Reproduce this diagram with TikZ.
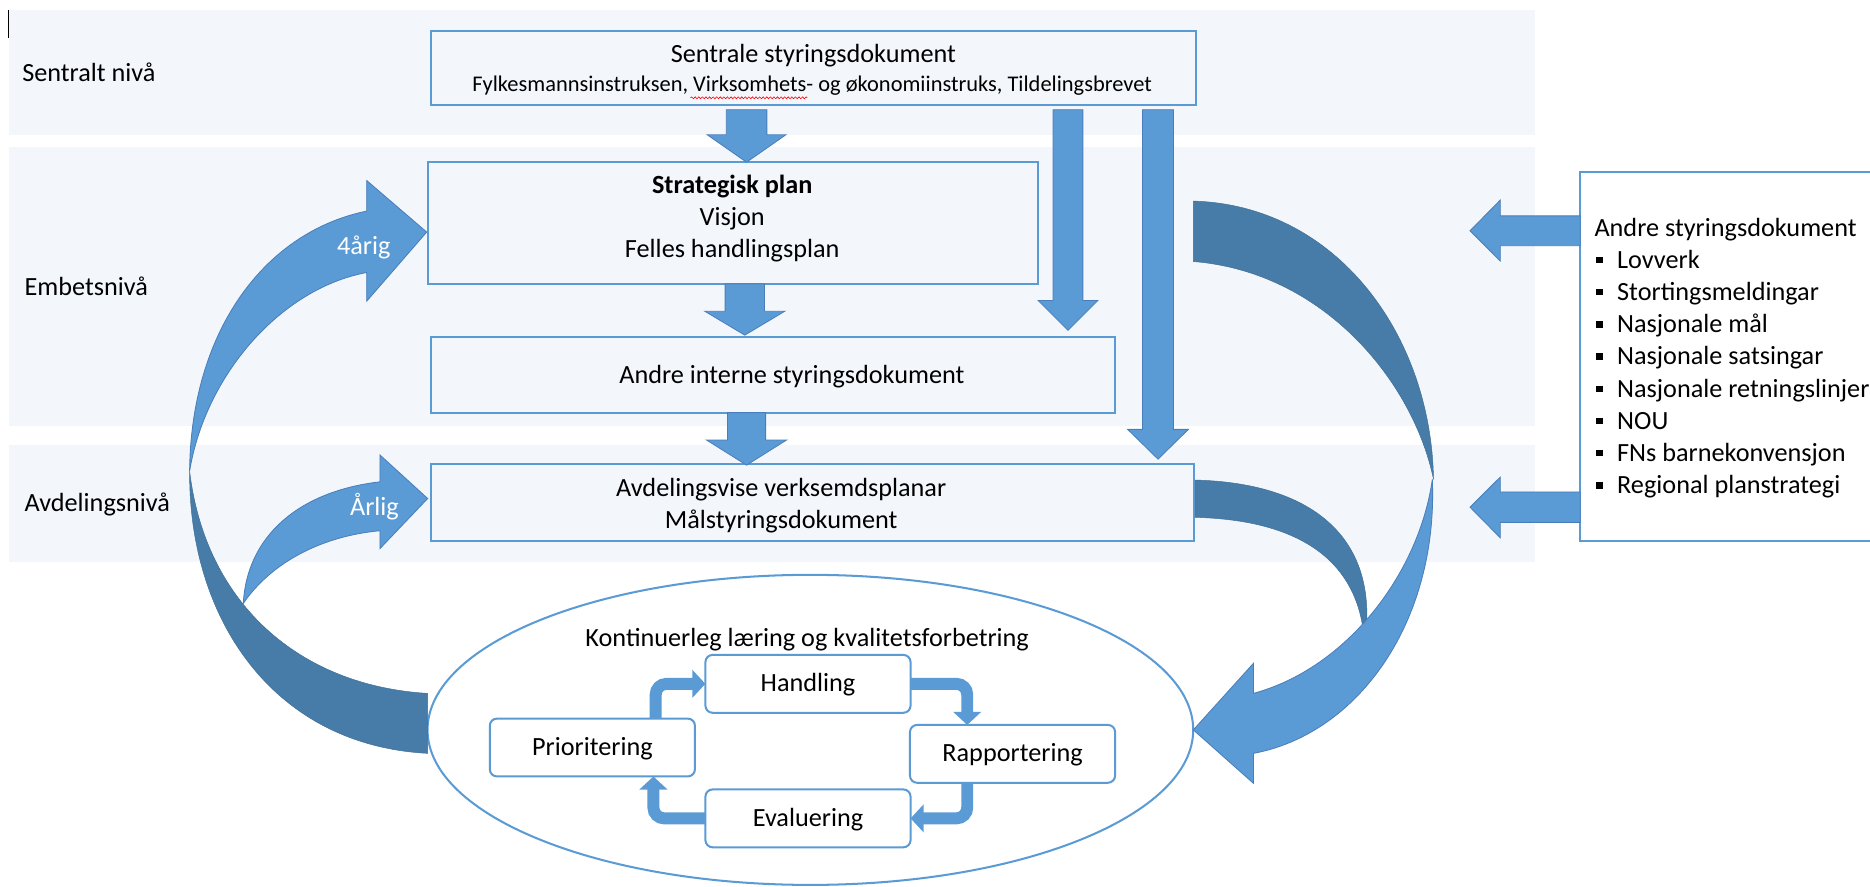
\documentclass[tikz,border=0pt]{standalone}
\usepackage{fontspec}
\setmainfont{Carlito}
\usetikzlibrary{shapes.geometric,arrows.meta,decorations.pathmorphing}
\definecolor{bandc}{RGB}{243,247,252}
\definecolor{boxline}{RGB}{91,155,213}
\definecolor{arrowfill}{RGB}{91,155,213}
\definecolor{arrowline}{RGB}{74,126,187}
\definecolor{darkfill}{RGB}{71,123,168}
\newcommand{\vblockarrow}[6]{%
  \filldraw[blockarrow] (#1-#5,#2) -- (#1+#5,#2) -- (#1+#5,#3) -- (#1+#6,#3) -- (#1,#4) -- (#1-#6,#3) -- (#1-#5,#3) -- cycle;}
\newcommand{\hblockleft}[7]{%
  \filldraw[blockarrow] (#1,#2-#5) -- (#3,#2-#5) -- (#3,#6) -- (#4,#2) -- (#3,#7) -- (#3,#2+#5) -- (#1,#2+#5) -- cycle;}
\begin{document}
\begin{tikzpicture}[x=1pt,y=-1pt,
  every node/.style={inner sep=0pt,outer sep=0pt},
  blockarrow/.style={fill=arrowfill,draw=arrowline,line width=0.7pt},
  darkpart/.style={fill=darkfill,draw=darkfill!90!black,line width=0.4pt},
  mainbox/.style={draw=boxline,line width=1.7pt,rectangle,anchor=north west},
  txt/.style={font=\fontsize{22}{26}\selectfont,anchor=base},
  smalltxt/.style={font=\fontsize{18.8}{22}\selectfont,anchor=base},
  lbl/.style={font=\fontsize{22}{26}\selectfont,anchor=base west},
  wtxt/.style={font=\fontsize{22}{26}\selectfont,anchor=base,text=white},
  cycbox/.style={draw=boxline,line width=1.7pt,fill=white,rounded corners=6pt,
    minimum width=172pt,minimum height=48.5pt,font=\fontsize{22}{26}\selectfont,
    text height=13.4pt,text depth=0.2pt},
  cycarrow/.style={draw=arrowfill,line width=10pt,rounded corners=9pt,
    -{Triangle[width=23pt,length=11pt]}},
  bulletsq/.style={fill=black,minimum size=5.5pt,rectangle}
]
\useasboundingbox (0,0) rectangle (1568,743);
% bands
\fill[bandc] (7.5,8.4) rectangle (1287,113.2);
\fill[bandc] (7.5,123) rectangle (1287,357);
\fill[bandc] (7.5,373) rectangle (1287,471.5);
% cursor and spell-check mark
\draw[line width=0.8pt] (7.5,8.4) -- (7.5,32);
% level labels
\node[lbl] (lsentral) at (18.7,68.5) {Sentralt nivå};
\node[lbl] (lembets) at (20.6,247.4) {Embetsnivå};
\node[lbl] (lavd) at (20.6,429) {Avdelingsnivå};
% main boxes
\node[mainbox,minimum width=642pt,minimum height=62.3pt] (sentral) at (361,25.7) {};
\node[mainbox,minimum width=511pt,minimum height=102pt] (strat) at (359,136) {};
\node[mainbox,minimum width=574pt,minimum height=63.5pt] (andre) at (361,282.5) {};
\node[mainbox,minimum width=640pt,minimum height=65pt] (avd) at (361,389) {};
\node[mainbox,fill=white,minimum width=262pt,minimum height=310pt] (ext) at (1325,144) {};
% texts in main boxes
\node[txt] (tsentral1) at (682,52) {Sentrale styringsdokument};
\node[smalltxt] (tsentral2) at (681,76.9) {Fylkesmannsinstruksen, Virksomhets- og økonomiinstruks, Tildelingsbrevet};
\draw[red,line width=0.5pt,decorate,decoration={snake,amplitude=0.8pt,segment length=3pt}] (579,82) -- (677,82);
\node[txt,font=\fontsize{22}{26}\selectfont\bfseries] (tstrat1) at (614,162) {Strategisk plan};
\node[txt] (tstrat2) at (614,189) {Visjon};
\node[txt] (tstrat3) at (614,215.8) {Felles handlingsplan};
\node[txt] (tandre) at (664,321.4) {Andre interne styringsdokument};
\node[txt] (tavd1) at (655,416.5) {Avdelingsvise verksemdsplanar};
\node[txt] (tavd2) at (655,443) {Målstyringsdokument};
% external documents
\node[lbl] (text0) at (1337,198.5) {Andre styringsdokument};
\foreach \i/\t in {0/Lovverk,1/Stortingsmeldingar,2/Nasjonale mål,3/Nasjonale satsingar,4/Nasjonale retningslinjer,5/NOU,6/FNs barnekonvensjon,7/Regional planstrategi}{
  \node[bulletsq] (b\i) at (1341.3,225+27*\i-7) {};
  \node[lbl] (item\i) at (1356,225+27*\i) {\t};
}
% straight block arrows
\vblockarrow{626}{92}{113}{136}{17}{33}
\vblockarrow{624.5}{238}{261}{281}{16.5}{33.5}
\vblockarrow{626}{346}{369}{390}{16}{33.5}
\vblockarrow{895.5}{92}{252}{277}{12.5}{25}
\vblockarrow{971}{92}{360}{385}{13}{25.5}
\hblockleft{1325}{193.5}{1258}{1232.6}{12.5}{167.7}{219}
\hblockleft{1325}{425.25}{1258}{1232.6}{12.75}{400}{451}
% ellipse
\node[ellipse,draw=boxline,line width=1.7pt,fill=white,minimum width=642pt,minimum height=260pt] (cyc) at (679.5,612) {};
\node[txt] (tcyc) at (676.8,542.2) {Kontinuerleg læring og kvalitetsforbetring};
% left curved arrows
\path[darkpart] (159,395) .. controls (158,520) and (230,625) .. (358.6,631.7) -- (358.6,581.4) .. controls (250,575) and (172,505) .. cycle;
\filldraw[blockarrow] (159,395) .. controls (160,280) and (220,195) .. (307.5,177) -- (307.5,151.4) -- (357.8,194.6) -- (307.5,252.5) -- (307.5,228.5) .. controls (235,242) and (172,315) .. cycle;
\filldraw[blockarrow] (204,506) .. controls (207,450) and (250,412) .. (318.6,404) -- (318.6,381.5) -- (358.6,418) -- (318.6,460) -- (318.6,445) .. controls (265,450) and (225,475) .. cycle;
\node[wtxt] (t4) at (305,213.8) {4årig};
\node[wtxt] (t1) at (314,432) {Årlig};
% right curved arrows
\path[darkpart] (1000.6,168.6) .. controls (1120,172) and (1200,280) .. (1202,402) .. controls (1185,320) and (1110,228) .. (1000.6,219.3) -- cycle;
\path[darkpart] (1002,402.5) .. controls (1100,405) and (1152,450) .. (1145.6,528) -- (1143,528) .. controls (1135,470) and (1090,436) .. (1002,433.8) -- cycle;
\filldraw[blockarrow] (1201,402) .. controls (1206,520) and (1140,615) .. (1051,631.7) -- (1051,656.8) -- (1000.6,612) -- (1051,556.2) -- (1051,581.4) .. controls (1130,560) and (1190,480) .. cycle;
% cycle boxes
\node[cycbox] (hand) at (677.5,573.4) {Handling};
\node[cycbox] (prio) at (496.7,626.8) {Prioritering};
\node[cycbox] (rapp) at (849,632.1) {Rapportering};
\node[cycbox] (eval) at (677.5,686.2) {Evaluering};
\draw[cycarrow] ([xshift=-32.9pt]prio.north east) |- (hand.west);
\draw[cycarrow] (hand.east) -| ([xshift=48pt]rapp.north west);
\draw[cycarrow] ([xshift=48pt]rapp.south west) |- (eval.east);
\draw[cycarrow] (eval.west) -| ([xshift=-34.8pt]prio.south east);
\end{tikzpicture}
\end{document}
